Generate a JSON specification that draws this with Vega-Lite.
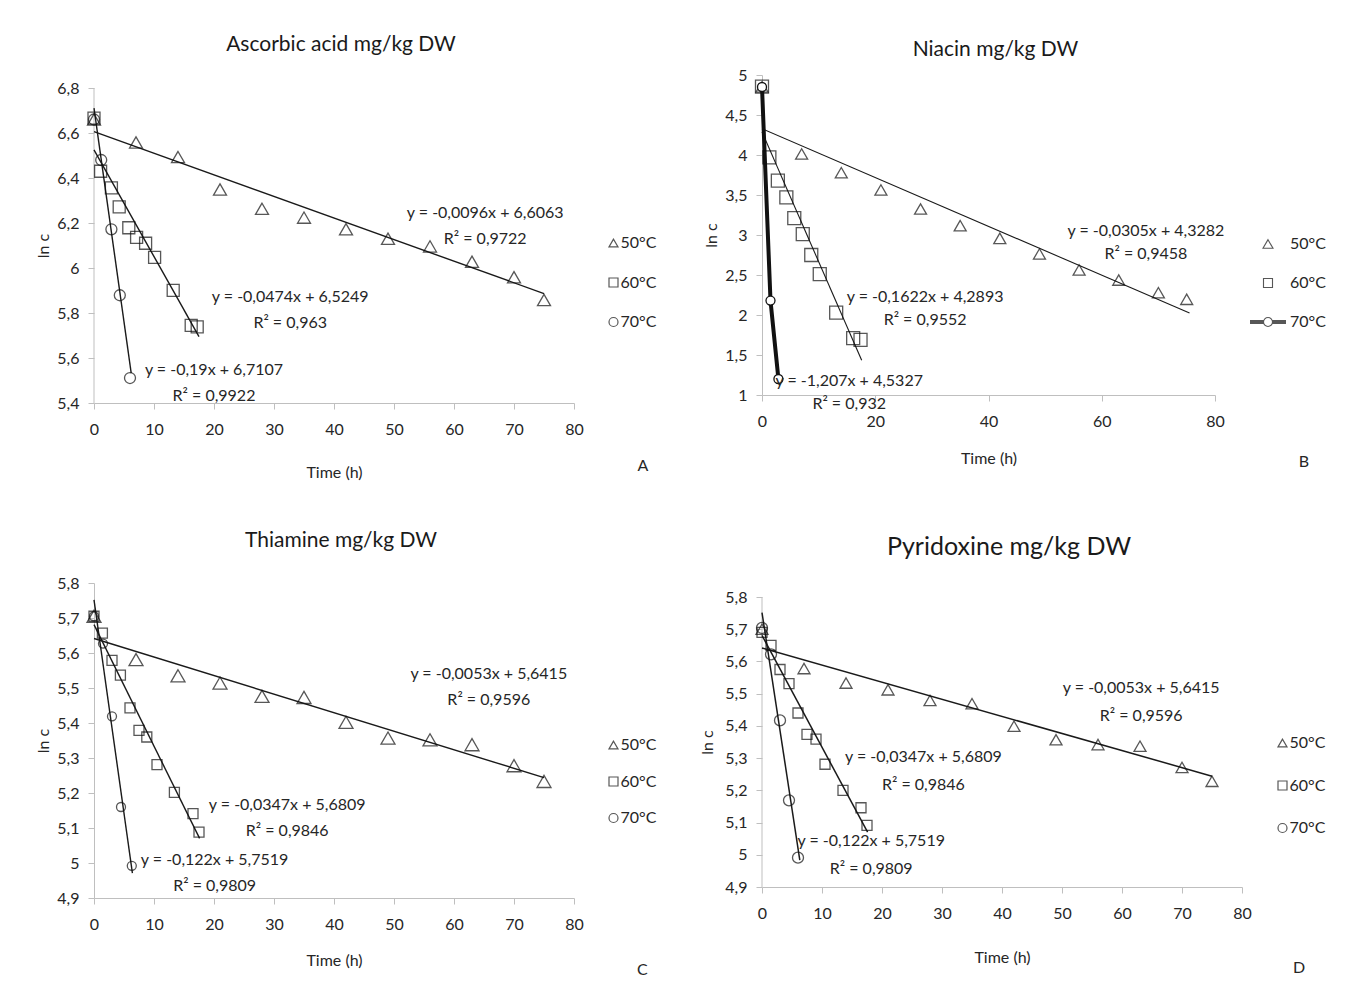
{
  "$schema": "https://vega.github.io/schema/vega-lite/v6.json",
  "background": "white",
  "padding": {"left": 35, "top": 34, "right": 5, "bottom": 5},
  "columns": 2,
  "spacing": {"row": 180, "column": 188},
  "bounds": "flush",
  "resolve": {"scale": {"shape": "independent"}, "legend": {"shape": "independent"}},
  "datasets": {
    "pts": [
      {"p":"A","s":"50°C","t":0,"v":6.66},{"p":"A","s":"50°C","t":7,"v":6.558},{"p":"A","s":"50°C","t":14,"v":6.493},{"p":"A","s":"50°C","t":21,"v":6.349},{"p":"A","s":"50°C","t":28,"v":6.263},{"p":"A","s":"50°C","t":35,"v":6.224},{"p":"A","s":"50°C","t":42,"v":6.172},{"p":"A","s":"50°C","t":49,"v":6.13},{"p":"A","s":"50°C","t":56,"v":6.096},{"p":"A","s":"50°C","t":63,"v":6.028},{"p":"A","s":"50°C","t":70,"v":5.959},{"p":"A","s":"50°C","t":75,"v":5.858},
      {"p":"A","s":"60°C","t":0,"v":6.666},{"p":"A","s":"60°C","t":1.1,"v":6.43},{"p":"A","s":"60°C","t":2.9,"v":6.356},{"p":"A","s":"60°C","t":4.2,"v":6.272},{"p":"A","s":"60°C","t":5.8,"v":6.179},{"p":"A","s":"60°C","t":7.1,"v":6.136},{"p":"A","s":"60°C","t":8.6,"v":6.11},{"p":"A","s":"60°C","t":10.1,"v":6.047},{"p":"A","s":"60°C","t":13.2,"v":5.901},{"p":"A","s":"60°C","t":16.2,"v":5.745},{"p":"A","s":"60°C","t":17.2,"v":5.738},
      {"p":"A","s":"70°C","t":0,"v":6.66},{"p":"A","s":"70°C","t":1.2,"v":6.48},{"p":"A","s":"70°C","t":2.9,"v":6.172},{"p":"A","s":"70°C","t":4.3,"v":5.879},{"p":"A","s":"70°C","t":6,"v":5.511},
      {"p":"B","s":"50°C","t":0,"v":4.85},{"p":"B","s":"50°C","t":7,"v":4.013},{"p":"B","s":"50°C","t":14,"v":3.779},{"p":"B","s":"50°C","t":21,"v":3.563},{"p":"B","s":"50°C","t":28,"v":3.325},{"p":"B","s":"50°C","t":35,"v":3.117},{"p":"B","s":"50°C","t":42,"v":2.958},{"p":"B","s":"50°C","t":49,"v":2.763},{"p":"B","s":"50°C","t":56,"v":2.563},{"p":"B","s":"50°C","t":63,"v":2.437},{"p":"B","s":"50°C","t":70,"v":2.279},{"p":"B","s":"50°C","t":75,"v":2.196},
      {"p":"B","s":"60°C","t":0,"v":4.854},{"p":"B","s":"60°C","t":1.3,"v":3.97},{"p":"B","s":"60°C","t":2.8,"v":3.68},{"p":"B","s":"60°C","t":4.3,"v":3.47},{"p":"B","s":"60°C","t":5.7,"v":3.21},{"p":"B","s":"60°C","t":7.2,"v":3.01},{"p":"B","s":"60°C","t":8.7,"v":2.75},{"p":"B","s":"60°C","t":10.2,"v":2.51},{"p":"B","s":"60°C","t":13.1,"v":2.03},{"p":"B","s":"60°C","t":16.1,"v":1.71},{"p":"B","s":"60°C","t":17.4,"v":1.69},
      {"p":"B","s":"70°C","t":0,"v":4.85},{"p":"B","s":"70°C","t":1.5,"v":2.18},{"p":"B","s":"70°C","t":2.9,"v":1.2},
      {"p":"C","s":"50°C","t":0,"v":5.705},{"p":"C","s":"50°C","t":7,"v":5.581},{"p":"C","s":"50°C","t":14,"v":5.535},{"p":"C","s":"50°C","t":21,"v":5.514},{"p":"C","s":"50°C","t":28,"v":5.476},{"p":"C","s":"50°C","t":35,"v":5.473},{"p":"C","s":"50°C","t":42,"v":5.402},{"p":"C","s":"50°C","t":49,"v":5.357},{"p":"C","s":"50°C","t":56,"v":5.352},{"p":"C","s":"50°C","t":63,"v":5.338},{"p":"C","s":"50°C","t":70,"v":5.278},{"p":"C","s":"50°C","t":75,"v":5.233},
      {"p":"C","s":"60°C","t":0,"v":5.705},{"p":"C","s":"60°C","t":1.4,"v":5.657},{"p":"C","s":"60°C","t":3,"v":5.579},{"p":"C","s":"60°C","t":4.4,"v":5.537},{"p":"C","s":"60°C","t":6,"v":5.443},{"p":"C","s":"60°C","t":7.5,"v":5.379},{"p":"C","s":"60°C","t":8.8,"v":5.36},{"p":"C","s":"60°C","t":10.5,"v":5.281},{"p":"C","s":"60°C","t":13.4,"v":5.202},{"p":"C","s":"60°C","t":16.5,"v":5.141},{"p":"C","s":"60°C","t":17.5,"v":5.088},
      {"p":"C","s":"70°C","t":0,"v":5.705},{"p":"C","s":"70°C","t":1.5,"v":5.627},{"p":"C","s":"70°C","t":3,"v":5.419},{"p":"C","s":"70°C","t":4.5,"v":5.16},{"p":"C","s":"70°C","t":6.3,"v":4.992},
      {"p":"D","s":"50°C","t":0,"v":5.7},{"p":"D","s":"50°C","t":7,"v":5.578},{"p":"D","s":"50°C","t":14,"v":5.533},{"p":"D","s":"50°C","t":21,"v":5.512},{"p":"D","s":"50°C","t":28,"v":5.479},{"p":"D","s":"50°C","t":35,"v":5.469},{"p":"D","s":"50°C","t":42,"v":5.399},{"p":"D","s":"50°C","t":49,"v":5.357},{"p":"D","s":"50°C","t":56,"v":5.342},{"p":"D","s":"50°C","t":63,"v":5.337},{"p":"D","s":"50°C","t":70,"v":5.271},{"p":"D","s":"50°C","t":75,"v":5.228},
      {"p":"D","s":"60°C","t":0,"v":5.69},{"p":"D","s":"60°C","t":1.5,"v":5.65},{"p":"D","s":"60°C","t":3,"v":5.575},{"p":"D","s":"60°C","t":4.5,"v":5.531},{"p":"D","s":"60°C","t":6,"v":5.44},{"p":"D","s":"60°C","t":7.5,"v":5.374},{"p":"D","s":"60°C","t":9,"v":5.359},{"p":"D","s":"60°C","t":10.5,"v":5.281},{"p":"D","s":"60°C","t":13.5,"v":5.2},{"p":"D","s":"60°C","t":16.5,"v":5.146},{"p":"D","s":"60°C","t":17.5,"v":5.091},
      {"p":"D","s":"70°C","t":0,"v":5.704},{"p":"D","s":"70°C","t":1.5,"v":5.622},{"p":"D","s":"70°C","t":3,"v":5.417},{"p":"D","s":"70°C","t":4.5,"v":5.169},{"p":"D","s":"70°C","t":6,"v":4.991}
    ],
    "fits": [
      {"p":"A","s":"50°C","t":0,"v":6.6063},{"p":"A","s":"50°C","t":75,"v":5.8863},
      {"p":"A","s":"60°C","t":0,"v":6.5249},{"p":"A","s":"60°C","t":17.5,"v":5.6954},
      {"p":"A","s":"70°C","t":0,"v":6.7107},{"p":"A","s":"70°C","t":6.2,"v":5.5327},
      {"p":"B","s":"50°C","t":0,"v":4.3282},{"p":"B","s":"50°C","t":75.5,"v":2.0255},
      {"p":"B","s":"60°C","t":0,"v":4.2893},{"p":"B","s":"60°C","t":17.6,"v":1.4346},
      {"p":"C","s":"50°C","t":0,"v":5.6415},{"p":"C","s":"50°C","t":75,"v":5.244},
      {"p":"C","s":"60°C","t":0,"v":5.6809},{"p":"C","s":"60°C","t":17.6,"v":5.0702},
      {"p":"C","s":"70°C","t":0,"v":5.7519},{"p":"C","s":"70°C","t":6.4,"v":4.9711},
      {"p":"D","s":"50°C","t":0,"v":5.6415},{"p":"D","s":"50°C","t":75,"v":5.244},
      {"p":"D","s":"60°C","t":0,"v":5.6809},{"p":"D","s":"60°C","t":17.6,"v":5.0702},
      {"p":"D","s":"70°C","t":0,"v":5.7519},{"p":"D","s":"70°C","t":6.3,"v":4.9833}
    ],
    "eqs": [
      {"p":"A","t":65.2,"v":6.187,"l1":"y = -0,0096x + 6,6063","l2":"R² = 0,9722"},
      {"p":"A","t":32.7,"v":5.813,"l1":"y = -0,0474x + 6,5249","l2":"R² = 0,963"},
      {"p":"A","t":20.0,"v":5.491,"l1":"y = -0,19x + 6,7107","l2":"R² = 0,9922"},
      {"p":"B","t":67.8,"v":2.906,"l1":"y = -0,0305x + 4,3282","l2":"R² = 0,9458"},
      {"p":"B","t":28.8,"v":2.079,"l1":"y = -0,1622x + 4,2893","l2":"R² = 0,9552"},
      {"p":"B","t":15.4,"v":1.02,"l1":"y = -1,207x + 4,5327","l2":"R² = 0,932"},
      {"p":"C","t":65.8,"v":5.504,"l1":"y = -0,0053x + 5,6415","l2":"R² = 0,9596"},
      {"p":"C","t":32.2,"v":5.129,"l1":"y = -0,0347x + 5,6809","l2":"R² = 0,9846"},
      {"p":"C","t":20.1,"v":4.971,"l1":"y = -0,122x + 5,7519","l2":"R² = 0,9809"},
      {"p":"D","t":63.2,"v":5.473,"l1":"y = -0,0053x + 5,6415","l2":"R² = 0,9596"},
      {"p":"D","t":26.9,"v":5.259,"l1":"y = -0,0347x + 5,6809","l2":"R² = 0,9846"},
      {"p":"D","t":18.2,"v":4.998,"l1":"y = -0,122x + 5,7519","l2":"R² = 0,9809"}
    ],
    "tags": [
      {"p":"A","tag":"A","t":91.5,"v":5.12},
      {"p":"B","tag":"B","t":95.7,"v":0.1625},
      {"p":"C","tag":"C","t":91.4,"v":4.694},
      {"p":"D","tag":"D","t":89.5,"v":4.649}
    ]
  },
  "concat": [
    {
      "width": 480, "height": 328,
      "title": {"text": "Ascorbic acid mg/kg DW", "fontSize": 21, "offset": 20, "dx": 7},
      "encoding": {
        "x": {"field": "t", "type": "quantitative", "scale": {"domain": [0, 80], "nice": false, "zero": false}, "axis": {"values": [0,10,20,30,40,50,60,70,80], "title": "Time (h)", "titleY": 69}},
        "y": {"field": "v", "type": "quantitative", "scale": {"domain": [5.4, 6.8578], "nice": false, "zero": false}, "axis": {"values": [5.4,5.6,5.8,6,6.2,6.4,6.6,6.8], "title": "ln c", "titleX": -51, "titleY": 170.5, "domain": false}}
      },
      "layer": [
        {"data": {"name": "tags"}, "transform": [{"filter": "datum.p === 'A'"}], "mark": {"type": "rule", "color": "#bfbfbf", "strokeWidth": 1}, "encoding": {"x": {"datum": 0, "type": "quantitative"}, "y": {"datum": 5.4, "type": "quantitative"}, "y2": {"datum": 6.8}}},
        {"data": {"name": "fits"}, "transform": [{"filter": "datum.p === 'A'"}], "mark": {"type": "line", "color": "#1a1a1a", "strokeWidth": 1.4}, "encoding": {"detail": {"field": "s"}}},
        {"data": {"name": "pts"}, "transform": [{"filter": "datum.p === 'A' && datum.s === '50°C'"}], "mark": {"type": "point", "shape": "triangle-up", "size": 169, "filled": false, "color": "#111111", "strokeWidth": 1.3}},
        {"data": {"name": "pts"}, "transform": [{"filter": "datum.p === 'A' && datum.s === '60°C'"}], "mark": {"type": "point", "shape": "square", "size": 144, "filled": false, "color": "#111111", "strokeWidth": 1.3}},
        {"data": {"name": "pts"}, "transform": [{"filter": "datum.p === 'A' && datum.s === '70°C'"}], "mark": {"type": "point", "shape": "circle", "size": 121, "filled": false, "color": "#111111", "strokeWidth": 1.3}},
        {"data": {"name": "pts"}, "transform": [{"filter": "datum.p === 'A'"}], "mark": {"type": "point", "size": 0, "filled": false, "color": "#111111", "strokeWidth": 1},
          "encoding": {
            "shape": {"field": "s", "type": "nominal", "scale": {"domain": ["50°C","60°C","70°C"], "range": ["triangle-up","square","circle"]}, "legend": {"orient": "none", "legendX": 511.5, "legendY": 160, "direction": "vertical", "title": null, "symbolSize": 81, "symbolStrokeWidth": 1.2, "symbolStrokeColor": "#111111", "rowPadding": 23.5, "labelOffset": -1, "padding": 0}}
          }},
        {"data": {"name": "eqs"}, "transform": [{"filter": "datum.p === 'A'"}], "mark": {"type": "text", "dy": -13, "align": "center", "baseline": "middle"}, "encoding": {"text": {"field": "l1"}}},
        {"data": {"name": "eqs"}, "transform": [{"filter": "datum.p === 'A'"}], "mark": {"type": "text", "dy": 13, "align": "center", "baseline": "middle"}, "encoding": {"text": {"field": "l2"}}},
        {"data": {"name": "tags"}, "transform": [{"filter": "datum.p === 'A'"}], "mark": {"type": "text", "align": "center", "baseline": "middle"}, "encoding": {"text": {"field": "tag"}}}
      ]
    },
    {
      "width": 453, "height": 320,
      "title": {"text": "Niacin mg/kg DW", "fontSize": 21, "offset": 7, "dx": 7},
      "encoding": {
        "x": {"field": "t", "type": "quantitative", "scale": {"domain": [0, 80], "nice": false, "zero": false}, "axis": {"values": [0,20,40,60,80], "title": "Time (h)", "titleY": 63}},
        "y": {"field": "v", "type": "quantitative", "scale": {"domain": [1, 5], "nice": false, "zero": false}, "axis": {"values": [1,1.5,2,2.5,3,3.5,4,4.5,5], "title": "ln c", "titleX": -51}}
      },
      "layer": [
        {"data": {"name": "fits"}, "transform": [{"filter": "datum.p === 'B'"}], "mark": {"type": "line", "color": "#1a1a1a", "strokeWidth": 1.1}, "encoding": {"detail": {"field": "s"}}},
        {"data": {"name": "pts"}, "transform": [{"filter": "datum.p === 'B' && datum.s === '70°C'"}], "mark": {"type": "line", "color": "#111111", "strokeWidth": 4}},
        {"data": {"name": "pts"}, "transform": [{"filter": "datum.p === 'B' && datum.s === '50°C'"}], "mark": {"type": "point", "shape": "triangle-up", "size": 144, "filled": false, "color": "#111111", "strokeWidth": 1.3}},
        {"data": {"name": "pts"}, "transform": [{"filter": "datum.p === 'B' && datum.s === '60°C'"}], "mark": {"type": "point", "shape": "square", "size": 169, "filled": false, "color": "#111111", "strokeWidth": 1.3}},
        {"data": {"name": "pts"}, "transform": [{"filter": "datum.p === 'B' && datum.s === '70°C'"}], "mark": {"type": "point", "shape": "circle", "size": 81, "filled": true, "fill": "white", "stroke": "#111111", "strokeWidth": 1.3, "opacity": 1}},
        {"data": {"name": "pts"}, "transform": [{"filter": "datum.p === 'B'"}], "mark": {"type": "point", "size": 0, "filled": false, "color": "#111111", "strokeWidth": 1},
          "encoding": {
            "shape": {"field": "s", "type": "nominal", "scale": {"domain": ["50°C","60°C","70°C"], "range": ["M0,-0.24L0.278,0.24L-0.278,0.24Z", "M-0.25,-0.25L0.25,-0.25L0.25,0.25L-0.25,0.25Z", "M-1,-0.083L-0.25,-0.083M-1,-0.028L-0.25,-0.028M-1,0.028L-0.25,0.028M-1,0.083L-0.25,0.083M0.25,-0.083L1,-0.083M0.25,-0.028L1,-0.028M0.25,0.028L1,0.028M0.25,0.083L1,0.083M0.25,0A0.25,0.25 0 1,1 -0.25,0A0.25,0.25 0 1,1 0.25,0Z"]}, "legend": {"orient": "none", "legendX": 487, "legendY": 150, "direction": "vertical", "title": null, "symbolSize": 1296, "symbolStrokeWidth": 1.1, "symbolStrokeColor": "#111111", "rowPadding": 12, "labelOffset": 3, "padding": 0}}
          }},
        {"data": {"name": "eqs"}, "transform": [{"filter": "datum.p === 'B'"}], "mark": {"type": "text", "dy": -12, "align": "center", "baseline": "middle"}, "encoding": {"text": {"field": "l1"}}},
        {"data": {"name": "eqs"}, "transform": [{"filter": "datum.p === 'B'"}], "mark": {"type": "text", "dy": 11, "align": "center", "baseline": "middle"}, "encoding": {"text": {"field": "l2"}}},
        {"data": {"name": "tags"}, "transform": [{"filter": "datum.p === 'B'"}], "mark": {"type": "text", "align": "center", "baseline": "middle"}, "encoding": {"text": {"field": "tag"}}}
      ]
    },
    {
      "width": 480, "height": 315,
      "title": {"text": "Thiamine mg/kg DW", "fontSize": 21, "offset": 24, "dx": 7},
      "encoding": {
        "x": {"field": "t", "type": "quantitative", "scale": {"domain": [0, 80], "nice": false, "zero": false}, "axis": {"values": [0,10,20,30,40,50,60,70,80], "title": "Time (h)", "titleY": 62}},
        "y": {"field": "v", "type": "quantitative", "scale": {"domain": [4.9, 5.8], "nice": false, "zero": false}, "axis": {"values": [4.9,5,5.1,5.2,5.3,5.4,5.5,5.6,5.7,5.8], "title": "ln c", "titleX": -51}}
      },
      "layer": [
        {"data": {"name": "fits"}, "transform": [{"filter": "datum.p === 'C'"}], "mark": {"type": "line", "color": "#1a1a1a", "strokeWidth": 1.4}, "encoding": {"detail": {"field": "s"}}},
        {"data": {"name": "pts"}, "transform": [{"filter": "datum.p === 'C' && datum.s === '50°C'"}], "mark": {"type": "point", "shape": "triangle-up", "size": 196, "filled": false, "color": "#111111", "strokeWidth": 1.3}},
        {"data": {"name": "pts"}, "transform": [{"filter": "datum.p === 'C' && datum.s === '60°C'"}], "mark": {"type": "point", "shape": "square", "size": 100, "filled": false, "color": "#111111", "strokeWidth": 1.3}},
        {"data": {"name": "pts"}, "transform": [{"filter": "datum.p === 'C' && datum.s === '70°C'"}], "mark": {"type": "point", "shape": "circle", "size": 81, "filled": false, "color": "#111111", "strokeWidth": 1.3}},
        {"data": {"name": "pts"}, "transform": [{"filter": "datum.p === 'C'"}], "mark": {"type": "point", "size": 0, "filled": false, "color": "#111111", "strokeWidth": 1},
          "encoding": {
            "shape": {"field": "s", "type": "nominal", "scale": {"domain": ["50°C","60°C","70°C"], "range": ["triangle-up","square","circle"]}, "legend": {"orient": "none", "legendX": 511.5, "legendY": 154, "direction": "vertical", "title": null, "symbolSize": 81, "symbolStrokeWidth": 1.2, "symbolStrokeColor": "#111111", "rowPadding": 20.5, "labelOffset": -1, "padding": 0}}
          }},
        {"data": {"name": "eqs"}, "transform": [{"filter": "datum.p === 'C'"}], "mark": {"type": "text", "dy": -13, "align": "center", "baseline": "middle"}, "encoding": {"text": {"field": "l1"}}},
        {"data": {"name": "eqs"}, "transform": [{"filter": "datum.p === 'C'"}], "mark": {"type": "text", "dy": 13, "align": "center", "baseline": "middle"}, "encoding": {"text": {"field": "l2"}}},
        {"data": {"name": "tags"}, "transform": [{"filter": "datum.p === 'C'"}], "mark": {"type": "text", "align": "center", "baseline": "middle"}, "encoding": {"text": {"field": "tag"}}}
      ]
    },
    {
      "width": 480, "height": 304,
      "title": {"text": "Pyridoxine mg/kg DW", "fontSize": 25, "offset": 23, "dx": 7},
      "encoding": {
        "x": {"field": "t", "type": "quantitative", "scale": {"domain": [0, 80], "nice": false, "zero": false}, "axis": {"values": [0,10,20,30,40,50,60,70,80], "title": "Time (h)", "titleY": 70}},
        "y": {"field": "v", "type": "quantitative", "scale": {"domain": [4.9, 5.8435], "nice": false, "zero": false}, "axis": {"values": [4.9,5,5.1,5.2,5.3,5.4,5.5,5.6,5.7,5.8], "title": "ln c", "titleX": -55, "titleY": 159, "domain": false}}
      },
      "layer": [
        {"data": {"name": "tags"}, "transform": [{"filter": "datum.p === 'D'"}], "mark": {"type": "rule", "color": "#bfbfbf", "strokeWidth": 1}, "encoding": {"x": {"datum": 0, "type": "quantitative"}, "y": {"datum": 4.9, "type": "quantitative"}, "y2": {"datum": 5.8}}},
        {"data": {"name": "fits"}, "transform": [{"filter": "datum.p === 'D'"}], "mark": {"type": "line", "color": "#1a1a1a", "strokeWidth": 1.5}, "encoding": {"detail": {"field": "s"}}},
        {"data": {"name": "pts"}, "transform": [{"filter": "datum.p === 'D' && datum.s === '50°C'"}], "mark": {"type": "point", "shape": "triangle-up", "size": 144, "filled": false, "color": "#111111", "strokeWidth": 1.3}},
        {"data": {"name": "pts"}, "transform": [{"filter": "datum.p === 'D' && datum.s === '60°C'"}], "mark": {"type": "point", "shape": "square", "size": 100, "filled": false, "color": "#111111", "strokeWidth": 1.3}},
        {"data": {"name": "pts"}, "transform": [{"filter": "datum.p === 'D' && datum.s === '70°C'"}], "mark": {"type": "point", "shape": "circle", "size": 121, "filled": false, "color": "#111111", "strokeWidth": 1.3}},
        {"data": {"name": "pts"}, "transform": [{"filter": "datum.p === 'D'"}], "mark": {"type": "point", "size": 0, "filled": false, "color": "#111111", "strokeWidth": 1},
          "encoding": {
            "shape": {"field": "s", "type": "nominal", "scale": {"domain": ["50°C","60°C","70°C"], "range": ["triangle-up","square","circle"]}, "legend": {"orient": "none", "legendX": 512.5, "legendY": 152, "direction": "vertical", "title": null, "symbolSize": 81, "symbolStrokeWidth": 1.2, "symbolStrokeColor": "#111111", "rowPadding": 26.5, "labelOffset": -1, "padding": 0}}
          }},
        {"data": {"name": "eqs"}, "transform": [{"filter": "datum.p === 'D'"}], "mark": {"type": "text", "dy": -14, "align": "center", "baseline": "middle"}, "encoding": {"text": {"field": "l1"}}},
        {"data": {"name": "eqs"}, "transform": [{"filter": "datum.p === 'D'"}], "mark": {"type": "text", "dy": 14, "align": "center", "baseline": "middle"}, "encoding": {"text": {"field": "l2"}}},
        {"data": {"name": "tags"}, "transform": [{"filter": "datum.p === 'D'"}], "mark": {"type": "text", "align": "center", "baseline": "middle"}, "encoding": {"text": {"field": "tag"}}}
      ]
    }
  ],
  "config": {
    "font": "Lato",
    "view": {"stroke": null},
    "axis": {"grid": false, "domainColor": "#bfbfbf", "tickColor": "#bfbfbf", "tickSize": 6, "labelFontSize": 16, "labelColor": "#262626", "titleFontSize": 16, "titleFontWeight": "normal", "titleColor": "#262626", "labelFlush": false, "labelOverlap": false},
    "axisX": {"labelPadding": 12, "titleBaseline": "middle"},
    "axisY": {"labelPadding": 9, "titleBaseline": "middle", "labelExpr": "replace(format(datum.value, '.2~f'), '.', ',')"},
    "title": {"fontWeight": "normal", "color": "#1a1a1a", "baseline": "alphabetic", "frame": "group"},
    "legend": {"labelFontSize": 16, "labelColor": "#262626"},
    "text": {"fontSize": 16, "color": "#262626"}
  }
}
